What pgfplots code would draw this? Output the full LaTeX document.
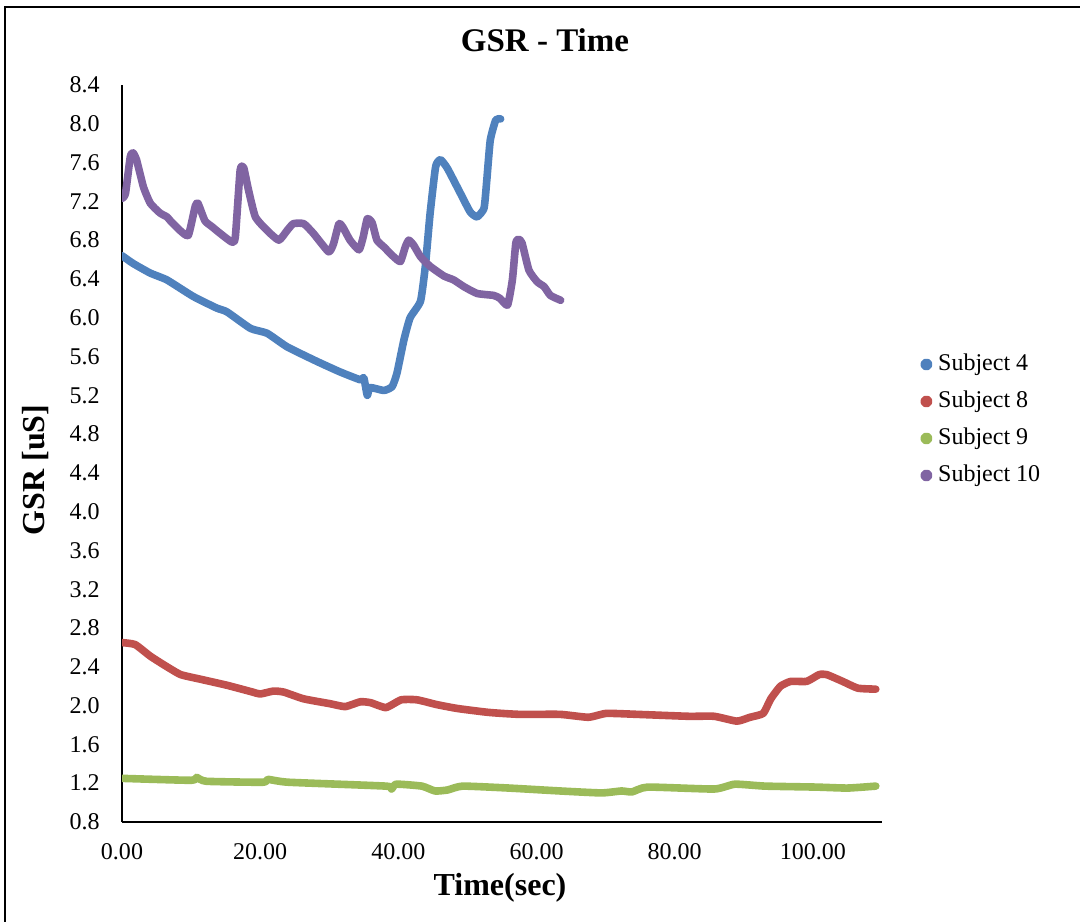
\documentclass[border=0pt]{standalone}
\usepackage{pgfplots}
\pgfplotsset{compat=1.18}
\usepackage{fontspec}
\setmainfont{Liberation Serif}
\definecolor{cA}{HTML}{4F81BD}
\definecolor{cB}{HTML}{C0504D}
\definecolor{cC}{HTML}{9BBB59}
\definecolor{cD}{HTML}{8064A2}
\begin{document}
\begin{tikzpicture}
\useasboundingbox (0,0) rectangle (540pt,460.5pt);
\draw[line width=1pt] (2.5pt,-10pt) -- (2.5pt,457pt) -- (560pt,457pt);
\node[font=\fontsize{16.5}{19}\selectfont\bfseries] at (272.5pt,440.5pt) {GSR - Time};
\node[font=\fontsize{16}{19}\selectfont\bfseries] at (250pt,16.5pt) {Time(sec)};
\node[font=\fontsize{16}{19}\selectfont\bfseries,rotate=90] at (18pt,225.5pt) {GSR [uS]};
\begin{axis}[
  at={(61pt,49.5pt)}, anchor=south west,
  scale only axis, width=380pt, height=368.5pt,
  xmin=0, xmax=110, ymin=0.8, ymax=8.4,
  axis x line=bottom, axis y line=left,
  axis line style={-, line width=0.8pt, black},
  xtick={0,20,40,60,80,100},
  ytick={0.8,1.2,1.6,2.0,2.4,2.8,3.2,3.6,4.0,4.4,4.8,5.2,5.6,6.0,6.4,6.8,7.2,7.6,8.0,8.4},
  major tick length=0pt,
  /pgf/number format/assume math mode=true,
  xticklabel={\pgfmathprintnumber[fixed,zerofill,precision=2]{\tick}},
  yticklabel={\pgfmathprintnumber[fixed,zerofill,precision=1]{\tick}},
  xticklabel style={font=\fontsize{12}{14}\selectfont, inner sep=0pt, anchor=north, yshift=-10.5pt},
  yticklabel style={font=\fontsize{12}{14}\selectfont, inner sep=0pt, anchor=east, xshift=-11pt},
  every axis plot/.append style={line width=3.8pt, line join=round, line cap=round, no marks, smooth, tension=0.3},
  legend style={at={(1.05,0.5455)}, anchor=west, draw=none, fill=none, inner sep=0pt,
    font=\fontsize{12}{14}\selectfont, row sep=6.5pt,
    nodes={inner sep=0pt, text height=9pt, text depth=3pt}},
  legend cell align=left,
  legend image code/.code={\fill (1.5pt,0pt) circle (1.1pt); \path (5.5pt,0pt);},
]
\addplot[cA] coordinates {
(0,6.64) (1.6,6.56) (4.1,6.46) (6.5,6.39) (10.3,6.22) (13.7,6.10) (15.2,6.06) (18.6,5.89)
(21.0,5.84) (23.9,5.70) (28.2,5.55) (31.6,5.44) (34.5,5.36) (35.0,5.38) (35.5,5.20) (35.9,5.28)
(37.9,5.25) (39.1,5.29) (39.8,5.43) (40.8,5.77) (41.7,6.00) (43.2,6.17) (43.9,6.53) (44.6,7.08)
(45.4,7.56) (46.1,7.63) (47.1,7.54) (49.0,7.28) (50.4,7.09) (51.4,7.04) (52.4,7.13) (52.8,7.42)
(53.3,7.83) (54.1,8.04) (54.8,8.05)
};
\addlegendentry{Subject 4}
\addplot[cB] coordinates {
(0,2.65) (1.9,2.63) (4.1,2.51) (6.3,2.41) (8.5,2.32) (11.5,2.27) (15.2,2.21) (18.9,2.14)
(20.0,2.12) (21.9,2.15) (23.4,2.14) (26.3,2.07) (30.1,2.02) (32.3,1.99) (34.5,2.04) (36.0,2.03)
(38.2,1.98) (40.4,2.06) (42.7,2.06) (45.6,2.01) (48.6,1.97) (53.1,1.93) (57.5,1.91) (63.4,1.91)
(67.5,1.88) (70.1,1.92) (74.6,1.91) (82.0,1.89) (85.7,1.89) (89.0,1.84) (90.9,1.88) (92.8,1.92)
(93.9,2.07) (95.3,2.20) (96.8,2.25) (99.1,2.25) (100.9,2.32) (102.0,2.32) (104.3,2.25) (106.5,2.18)
(109.1,2.17)
};
\addlegendentry{Subject 8}
\addplot[cC] coordinates {
(0,1.25) (10.0,1.23) (10.8,1.26) (12.2,1.22) (20.4,1.21) (21.1,1.24) (24.1,1.21) (38.2,1.17)
(39.0,1.14) (39.7,1.19) (43.4,1.17) (45.3,1.12) (47.1,1.13) (49.3,1.17) (56.0,1.15) (63.4,1.12)
(69.4,1.10) (72.3,1.12) (73.8,1.11) (76.1,1.16) (85.7,1.14) (88.7,1.19) (93.1,1.17) (100.5,1.16)
(105.0,1.15) (109.1,1.17)
};
\addlegendentry{Subject 9}
\addplot[cD] coordinates {
(0,7.23) (0.5,7.28) (1.2,7.66) (1.6,7.70) (2.1,7.63) (3.1,7.35) (4.1,7.18) (5.5,7.08) (6.5,7.04)
(7.0,7.00) (8.4,6.90) (9.6,6.85) (10.6,7.15) (11.0,7.18) (12.0,7.00) (13.0,6.94) (14.2,6.87)
(15.9,6.78) (16.4,6.83) (17.1,7.52) (17.6,7.55) (18.3,7.32) (19.3,7.04) (21.0,6.90) (22.7,6.80)
(23.9,6.90) (24.8,6.97) (26.3,6.97) (27.7,6.87) (29.9,6.68) (30.6,6.76) (31.4,6.97) (32.0,6.93)
(33.0,6.80) (34.3,6.70) (34.9,6.83) (35.5,7.02) (36.2,6.98) (36.9,6.80) (37.9,6.73) (39.3,6.63)
(40.3,6.58) (41.0,6.73) (41.5,6.80) (42.2,6.75) (43.2,6.63) (44.6,6.53) (46.6,6.43) (48.0,6.39)
(49.5,6.32) (51.4,6.25) (53.8,6.23) (54.7,6.20) (55.8,6.13) (56.5,6.39) (57.0,6.77) (57.4,6.81)
(57.9,6.77) (58.9,6.49) (60.1,6.37) (61.1,6.32) (62.0,6.23) (63.5,6.18)
};
\addlegendentry{Subject 10}
\end{axis}
\end{tikzpicture}
\end{document}
